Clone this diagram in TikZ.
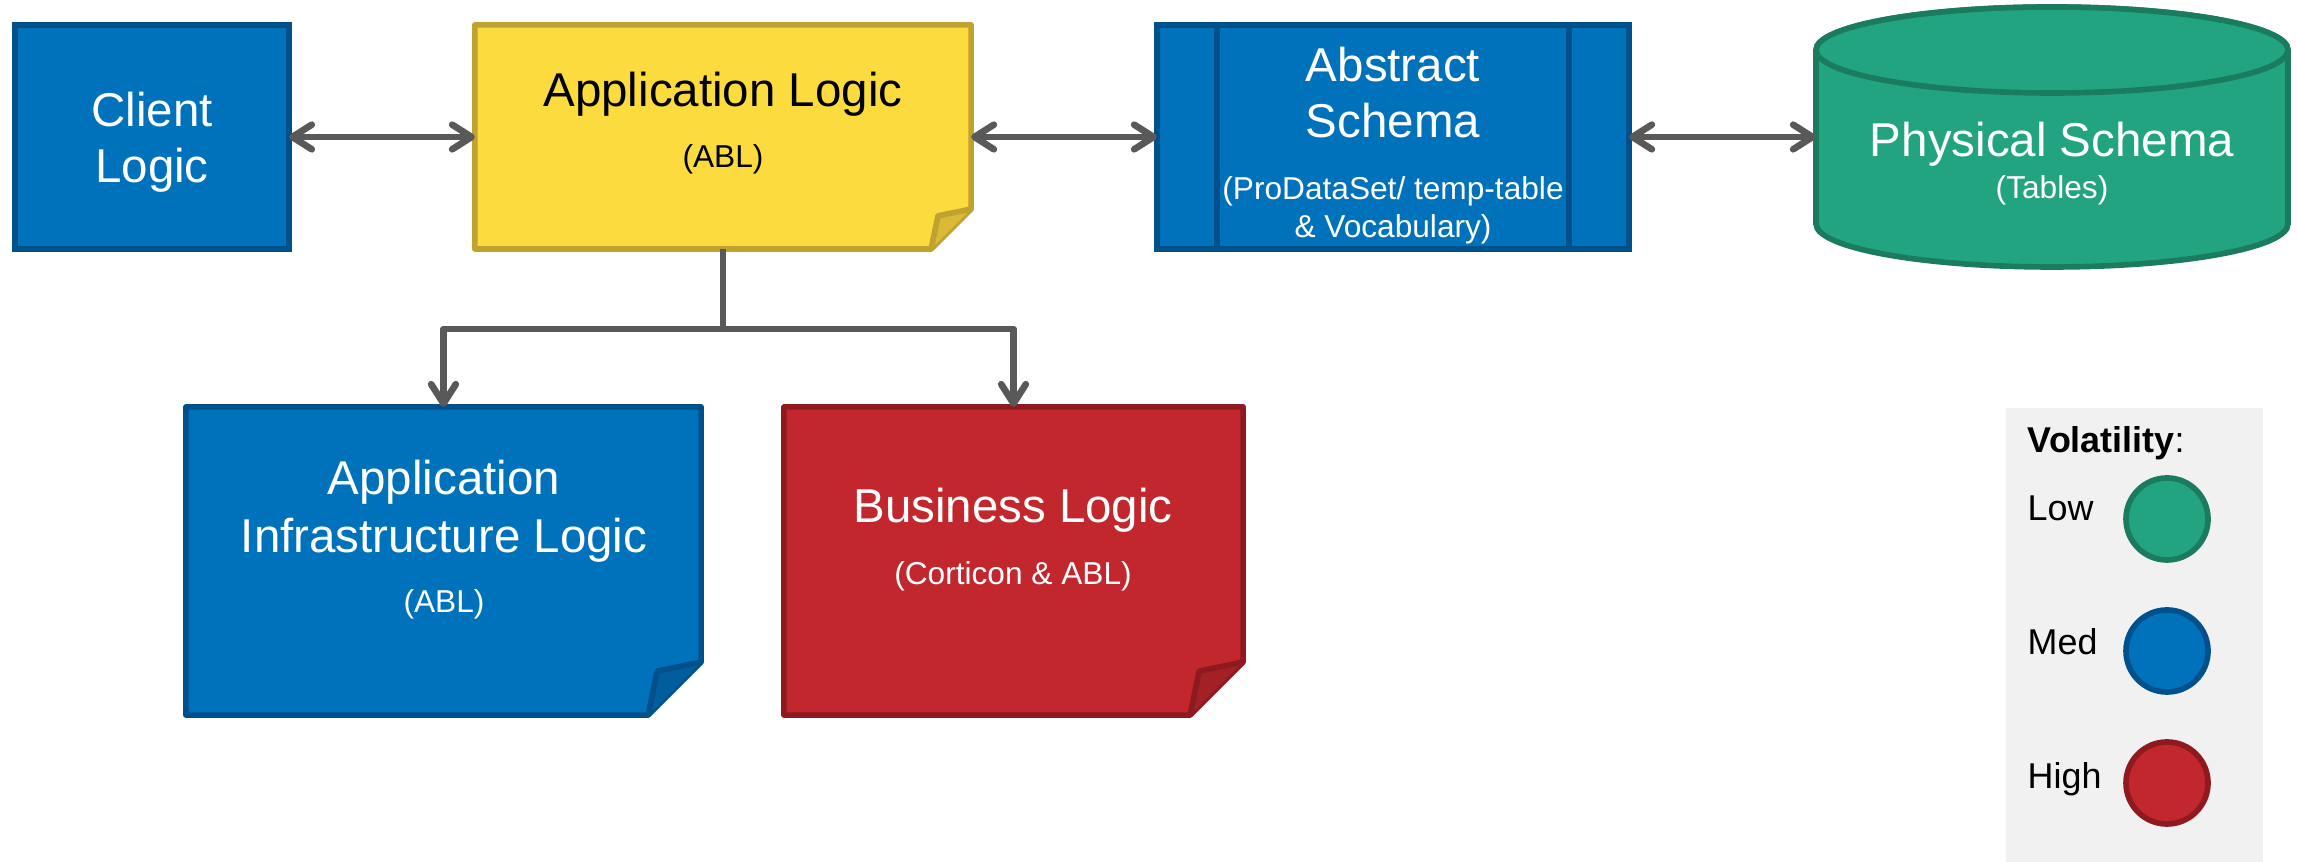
\documentclass[tikz,border=0pt]{standalone}
\usepackage{fontspec}
\setmainfont{Liberation Sans}
\usetikzlibrary{arrows.meta,calc,backgrounds}
\definecolor{bluef}{HTML}{0072BB}
\definecolor{blued}{HTML}{00508C}
\definecolor{bluefold}{HTML}{005E9C}
\definecolor{yelf}{HTML}{FCDB3F}
\definecolor{yeld}{HTML}{BFA230}
\definecolor{yelfold}{HTML}{D9BA36}
\definecolor{redf}{HTML}{C1272D}
\definecolor{redd}{HTML}{8E1A1F}
\definecolor{redfold}{HTML}{A32026}
\definecolor{grnf}{HTML}{23A480}
\definecolor{grnd}{HTML}{1B7B5F}
\definecolor{connc}{HTML}{595959}
\definecolor{legbg}{HTML}{F1F1F1}
\newcommand\drawnote[5]{%
  \begin{scope}[on background layer]
    \filldraw[fill=#2,draw=#3,line width=1.6pt,line join=round]
      (#1.north west) -- (#1.north east) -- ($(#1.south east)+(0,-#5)$)
      -- ($(#1.south east)+(-#5,0)$) -- (#1.south west) -- cycle;
    \filldraw[fill=#4,draw=#3,line width=1.6pt,line join=round]
      ($(#1.south east)+(-#5,0)$) -- ($(#1.south east)+(-0.83*#5,-0.83*#5)$)
      -- ($(#1.south east)+(0,-#5)$);
  \end{scope}}
\begin{document}
\begin{tikzpicture}[x=0.01cm,y=-0.01cm,
  box/.style={rectangle,inner sep=0pt,outer sep=0pt,line width=1.6pt},
  mtxt/.style={anchor=base,inner sep=0pt,font=\fontsize{13.5}{16}\selectfont},
  stxt/.style={anchor=base,inner sep=0pt,font=\fontsize{9}{11}\selectfont},
  ltxt/.style={anchor=base west,inner sep=0pt,font=\fontsize{10.2}{12}\selectfont},
  tip/.style={},
  link/.style={draw=connc,line width=1.9pt,
    {Straight Barb[length=5.5pt,width=7pt,round]}-{Straight Barb[length=5.5pt,width=7pt,round]}},
  tlink/.style={draw=connc,line width=1.9pt,line join=round,-{Straight Barb[length=5.5pt,width=7pt,round]}},
  dot/.style={circle,minimum size=0.82cm,inner sep=0pt,line width=1.6pt}]
\useasboundingbox (0,0) rectangle (2297,862);

% legend background
\node[box,fill=legbg,minimum width=2.57cm,minimum height=4.54cm] (legend) at (2134.5,635) {};

% boxes
\node[box,fill=bluef,draw=blued,minimum width=2.74cm,minimum height=2.24cm] (client) at (152,137) {};
\node[box,minimum width=4.96cm,minimum height=2.24cm] (app) at (723,137) {};
\drawnote{app}{yelf}{yeld}{yelfold}{40}
\node[box,fill=bluef,draw=blued,minimum width=4.72cm,minimum height=2.24cm] (abs) at (1393,137) {};
\draw[blued,line width=1.6pt] ($(abs.north west)+(60,0)$) -- ($(abs.south west)+(60,0)$);
\draw[blued,line width=1.6pt] ($(abs.north east)+(-60,0)$) -- ($(abs.south east)+(-60,0)$);
\node[box,minimum width=4.72cm,minimum height=2.60cm] (phys) at (2052,137) {};
\begin{scope}[on background layer]
  \filldraw[fill=grnf,draw=grnd,line width=1.6pt]
    (1816,50) -- (1816,224) arc[start angle=180,end angle=0,x radius=236,y radius=43]
    -- (2288,50) arc[start angle=0,end angle=-180,x radius=236,y radius=43] -- cycle;
  \filldraw[fill=grnf,draw=grnd,line width=1.6pt] (2052,50) ellipse[x radius=236,y radius=43];
\end{scope}
\node[box,minimum width=5.15cm,minimum height=3.08cm] (infra) at (443.5,561) {};
\drawnote{infra}{bluef}{blued}{bluefold}{53}
\node[box,minimum width=4.59cm,minimum height=3.08cm] (biz) at (1013.5,561) {};
\drawnote{biz}{redf}{redd}{redfold}{53}

% texts
\node[mtxt,white] (t1) at (152,127) {Client};
\node[mtxt,white] (t2) at (152,183) {Logic};
\node[mtxt,black] (t3) at (723,107) {Application Logic};
\node[stxt,black] (t4) at (723,168) {(ABL)};
\node[mtxt,white] (t5) at (1393,82) {Abstract};
\node[mtxt,white] (t6) at (1393,138) {Schema};
\node[stxt,white] (t7) at (1393,200) {(ProDataSet/ temp-table};
\node[stxt,white] (t8) at (1393,238) {\& Vocabulary)};
\node[mtxt,white] (t9) at (2052,157) {Physical Schema};
\node[stxt,white] (t10) at (2052,199) {(Tables)};
\node[mtxt,white] (t11) at (444,495) {Application};
\node[mtxt,white] (t12) at (444,553) {Infrastructure Logic};
\node[stxt,white] (t13) at (444,613) {(ABL)};
\node[mtxt,white] (t14) at (1013,523) {Business Logic};
\node[stxt,white] (t15) at (1013,585) {(Corticon \& ABL)};

% connectors
\draw[link] (client) -- (app);
\draw[link] (app) -- (abs);
\draw[link] (abs) -- (phys);
\coordinate (j) at (723,329);
\draw[tlink] (app.south) -- (j) -| (infra.north);
\draw[tlink] (j) -| (biz.north);

% legend
\node[ltxt] (lv) at (2027,453) {\textbf{Volatility}:};
\node[ltxt] (ll) at (2027,521) {Low};
\node[ltxt] (lm) at (2027,655) {Med};
\node[ltxt] (lh) at (2027,789) {High};
\node[dot,fill=grnf,draw=grnd] (lowc) at (2167,519) {};
\node[dot,fill=bluef,draw=blued] (medc) at (2167,651) {};
\node[dot,fill=redf,draw=redd] (highc) at (2167,783) {};
\end{tikzpicture}
\end{document}
